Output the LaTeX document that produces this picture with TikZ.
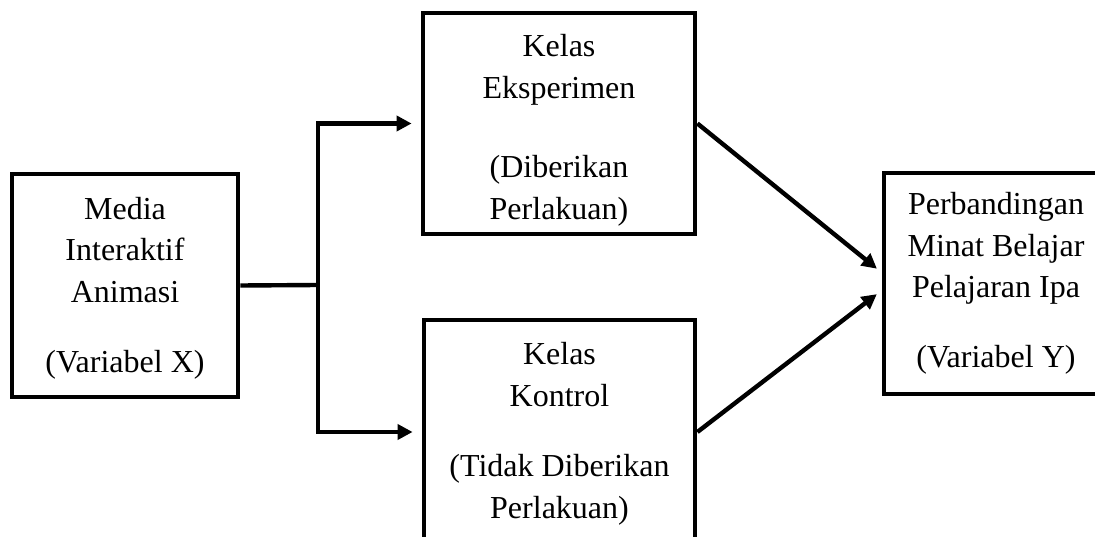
\documentclass[tikz,border=0pt]{standalone}
\usepackage{fontspec}
\setmainfont{Liberation Serif}
\usetikzlibrary{arrows.meta,calc}
\begin{document}
\begin{tikzpicture}[x=1pt,y=1pt,
  boxnode/.style={draw=black, line width=4.8pt, fill=white, inner sep=0pt,
    align=center, font=\fontsize{32}{41.5}\selectfont},
  conn/.style={line width=4.4pt, line join=miter},
  arr/.style={conn, -{Triangle[length=15pt,width=15pt]}, shorten >=9pt}]
\useasboundingbox (0,0) rectangle (1095,-537);
\clip (0,0) rectangle (1095,-537);
\fill[white] (0,0) rectangle (1095,-537);

\node[boxnode, minimum width=226pt, minimum height=223pt] (A) at (125,-285.5)
  {\rule{0pt}{28pt}Media\\Interaktif\\Animasi\\[29pt](Variabel X)};
\node[boxnode, minimum width=272pt, minimum height=221pt] (B) at (559,-123.5)
  {\rule{0pt}{36pt}Kelas\\Eksperimen\\[38pt](Diberikan\\Perlakuan)};
\node[boxnode, minimum width=271pt, minimum height=224pt] (C) at (559.5,-432)
  {\rule{0pt}{26pt}Kelas\\Kontrol\\[29pt](Tidak Diberikan\\Perlakuan)};
\node[boxnode, minimum width=224pt, minimum height=221pt] (D) at (996,-283.5)
  {Perbandingan\\Minat Belajar\\Pelajaran Ipa\\[28pt](Variabel Y)};

\coordinate (J) at (318,-285);
\draw[conn] (A.east) -- (J);
\draw[arr] (J) |- (B.west);
\draw[arr] (J) |- (C.west);
\draw[arr, shorten >=6pt] (B.east) -- ($(D.west)+(0,11)$);
\draw[arr, shorten >=6pt] (C.east) -- ($(D.west)+(0,-7)$);
\end{tikzpicture}
\end{document}
